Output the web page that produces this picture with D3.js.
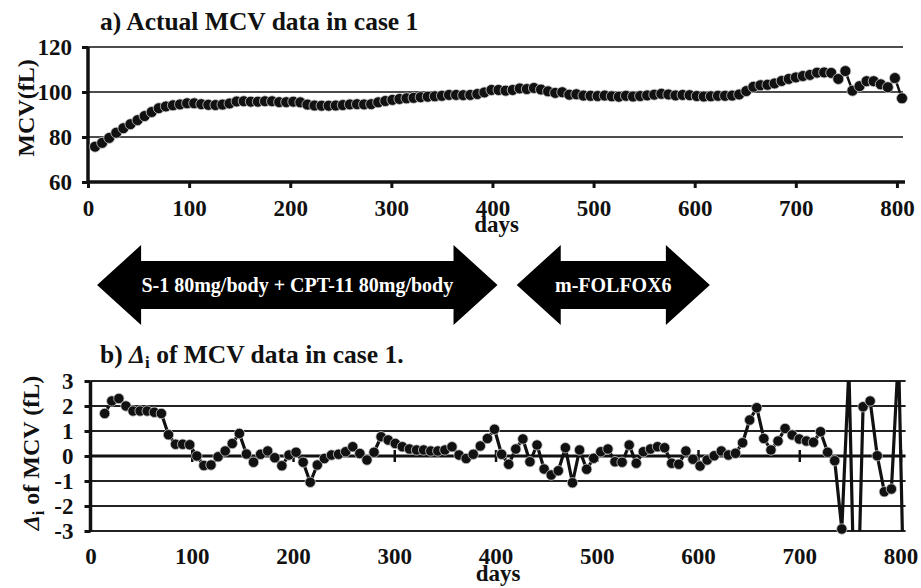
<!DOCTYPE html>
<html>
<head>
<meta charset="utf-8">
<script src="https://cdn.jsdelivr.net/npm/d3@7"></script>
<style>
  html, body { margin: 0; padding: 0; background: #fff; }
  svg { display: block; }
  text { font-family: "Liberation Serif", "Times New Roman", serif; font-weight: bold; fill: #111; }
</style>
</head>
<body>
<svg id="chart" width="921" height="588"></svg>
<script>
// Sampling days (weekly blood tests)
const days = [7,14,21,28,35,42,49,56,63,70,77,84,91,98,105,112,119,126,133,140,
  147,154,161,168,175,182,189,196,203,210,217,224,231,238,245,252,259,266,273,280,
  287,294,301,308,315,322,329,336,343,350,357,364,371,378,385,392,399,406,413,420,
  427,434,441,448,455,462,469,476,483,490,497,504,511,518,525,532,539,546,553,560,
  567,574,581,588,595,602,609,616,623,630,637,644,651,658,665,672,679,686,693,700,
  707,714,721,728,735,742,749,756,763,770,777,784,791,798,805];

// MCV (fL) on each sampling day
const mcv = [75.7,77.4,79.6,81.9,83.9,85.7,87.5,89.3,91.1,92.8,93.6,94.1,94.5,95.0,95.0,94.6,94.3,94.2,94.4,94.9,
  95.8,95.9,95.7,95.7,95.9,95.9,95.5,95.5,95.7,95.4,94.4,94.0,93.9,93.9,94.0,94.2,94.5,94.6,94.5,94.6,
  95.4,96.0,96.5,96.9,97.2,97.4,97.7,97.9,98.1,98.3,98.7,98.7,98.6,98.7,99.1,99.8,100.9,100.9,100.6,100.9,
  101.6,101.3,101.8,101.1,100.3,99.6,99.9,98.8,99.0,98.4,98.3,98.2,98.4,98.1,97.9,98.3,98.0,98.2,98.5,98.8,
  99.2,98.9,98.5,98.7,98.6,98.2,98.0,98.1,98.3,98.3,98.4,98.9,100.4,102.3,103.0,103.2,103.8,104.9,105.8,106.5,
  107.1,107.6,108.6,108.7,108.5,105.8,109.3,100.6,102.6,104.8,104.8,103.4,102.1,106.2,97.2];

// Δi of MCV (fL), from the second sampling day onward
const deltaDays = days.slice(1);
const delta = [1.7,2.2,2.3,2.0,1.8,1.8,1.8,1.75,1.7,0.85,0.47,0.47,0.45,0.0,-0.38,-0.36,-0.03,0.2,0.5,0.9,
  0.08,-0.25,0.07,0.2,-0.07,-0.39,0.04,0.15,-0.25,-1.05,-0.36,-0.1,0.04,0.07,0.17,0.37,0.1,-0.16,0.15,0.77,
  0.64,0.5,0.37,0.28,0.24,0.24,0.2,0.2,0.24,0.37,0.04,-0.1,0.07,0.4,0.7,1.07,0.07,-0.33,0.28,0.68,
  -0.23,0.44,-0.52,-0.76,-0.59,0.33,-1.07,0.24,-0.53,-0.09,0.17,0.28,-0.23,-0.25,0.44,-0.29,0.17,0.28,0.37,0.33,
  -0.29,-0.33,0.2,-0.13,-0.4,-0.16,0.01,0.2,0.04,0.11,0.53,1.44,1.93,0.7,0.24,0.6,1.1,0.84,0.68,0.6,
  0.55,0.97,0.15,-0.19,-2.92,3.5,-8.7,1.97,2.2,0.01,-1.43,-1.32,4.1,-9.0];

// Axis ticks
const dayTicks = [0,100,200,300,400,500,600,700,800];
const mcvTicks = [60,80,100,120];
const deltaTicks = [-3,-2,-1,0,1,2,3];

// Treatment periods (days)
const treatNames = ["S-1 80mg/body + CPT-11 80mg/body", "m-FOLFOX6"];
const treatStart = [9, 424];
const treatEnd = [405, 615];

const plain = d => String(d);   // "-1", not "−1.0"
const svg = d3.select("#chart");

// ---------- a) MCV ----------
const xA = d3.scaleLinear().domain([0, 806]).range([88, 903]);
const yA = d3.scaleLinear().domain([60, 120]).range([182, 47]);

svg.append("text").attr("x", 100).attr("y", 30).style("font-size", "25.5px")
  .text("a) Actual MCV data in case 1");

const gA = svg.append("g");
gA.selectAll("line.grid").data(mcvTicks.filter(v => v > 60)).join("line")
  .attr("x1", xA(0)).attr("x2", xA(806)).attr("y1", d => yA(d)).attr("y2", d => yA(d))
  .attr("stroke", "#111").attr("stroke-width", 1.6);

const axA_y = gA.append("g").attr("transform", `translate(${xA(0)},0)`)
  .call(d3.axisLeft(yA).tickValues(mcvTicks).tickFormat(plain).tickSize(6).tickPadding(10));
const axA_x = gA.append("g").attr("transform", `translate(0,${yA(60)})`)
  .call(d3.axisBottom(xA).tickValues(dayTicks).tickFormat(plain).tickSize(6).tickPadding(12));
[axA_y, axA_x].forEach(a => {
  a.select(".domain").attr("stroke", "#111").attr("stroke-width", 3.5);
  a.selectAll(".tick line").attr("stroke", "#111").attr("stroke-width", 3);
  a.selectAll(".tick text").style("font-size", "23px").attr("fill", "#111");
});
axA_x.select(".domain").attr("d", `M${xA(0)},0H${xA(806) + 2}`);
axA_y.select(".domain").attr("d", `M0,${yA(60)}V${yA(120)}`);

svg.append("text").attr("x", (xA(0) + xA(806)) / 2 + 1).attr("y", 232)
  .attr("text-anchor", "middle").style("font-size", "23px").text("days");
svg.append("text").attr("transform", "translate(34,108) rotate(-90)")
  .attr("text-anchor", "middle").style("font-size", "24px").text("MCV(fL)");

const mcvPts = days.map((d, i) => [d, mcv[i]]);
gA.append("path").datum(mcvPts)
  .attr("d", d3.line().x(p => xA(p[0])).y(p => yA(p[1])))
  .attr("fill", "none").attr("stroke", "#111").attr("stroke-width", 2.5);
gA.selectAll("circle").data(mcvPts).join("circle")
  .attr("cx", p => xA(p[0])).attr("cy", p => yA(p[1])).attr("r", 5.5)
  .attr("fill", "#111").attr("stroke", "#ccc").attr("stroke-width", 0.8);

// ---------- treatment arrows ----------
const arrowCy = 285, headH = 40, shaftH = 24, headL = 44;
treatNames.forEach((name, i) => {
  const x0 = xA(treatStart[i]), x1 = xA(treatEnd[i]);
  const pts = [
    [x0, arrowCy], [x0 + headL, arrowCy - headH], [x0 + headL, arrowCy - shaftH],
    [x1 - headL, arrowCy - shaftH], [x1 - headL, arrowCy - headH], [x1, arrowCy],
    [x1 - headL, arrowCy + headH], [x1 - headL, arrowCy + shaftH],
    [x0 + headL, arrowCy + shaftH], [x0 + headL, arrowCy + headH]
  ];
  svg.append("polygon").attr("points", pts.map(p => p.join(",")).join(" ")).attr("fill", "#000");
  svg.append("text").attr("x", (x0 + x1) / 2).attr("y", arrowCy + 7)
    .attr("text-anchor", "middle").style("font-size", "20px")
    .style("fill", "#fff").text(name);
});

// ---------- b) Δi ----------
const xB = d3.scaleLinear().domain([0, 805]).range([90.5, 905.6]);
const yB = d3.scaleLinear().domain([-3, 3]).range([531, 381]);

const tB = svg.append("text").attr("x", 100).attr("y", 363).style("font-size", "25.5px");
tB.append("tspan").text("b) ");
tB.append("tspan").style("font-style", "italic").text("Δ");
tB.append("tspan").attr("dy", 5).style("font-size", "17px").text("i");
tB.append("tspan").attr("dy", -5).text(" of MCV data in case 1.");

const gB = svg.append("g");
gB.selectAll("line.grid").data(deltaTicks.filter(v => v !== 0)).join("line")
  .attr("x1", xB(0)).attr("x2", xB(805)).attr("y1", d => yB(d)).attr("y2", d => yB(d))
  .attr("stroke", "#222").attr("stroke-width", 1.8);

const axB_y = gB.append("g").attr("transform", `translate(${xB(0)},0)`)
  .call(d3.axisLeft(yB).tickValues(deltaTicks).tickFormat(plain).tickSize(6).tickPadding(11));
axB_y.select(".domain").attr("stroke", "#111").attr("stroke-width", 3.5)
  .attr("d", `M0,${yB(-3) + 1}V${yB(3)}`);
axB_y.selectAll(".tick line").attr("stroke", "#111").attr("stroke-width", 3);
axB_y.selectAll(".tick text").style("font-size", "23px").attr("fill", "#111");

// zero line with crossing ticks
const axB_zero = gB.append("g").attr("transform", `translate(0,${yB(0)})`)
  .call(d3.axisBottom(xB).tickValues(dayTicks.slice(1)).tickSize(6).tickFormat(""));
axB_zero.select(".domain").attr("stroke", "#111").attr("stroke-width", 3)
  .attr("d", `M${xB(0)},0H${xB(805)}`);
axB_zero.selectAll(".tick line").attr("stroke", "#111").attr("stroke-width", 2.5).attr("y1", -6);

// tick labels along the bottom edge
const axB_lab = gB.append("g").attr("transform", `translate(0,${yB(-3)})`)
  .call(d3.axisBottom(xB).tickValues(dayTicks).tickFormat(plain).tickSize(0).tickPadding(17));
axB_lab.select(".domain").remove();
axB_lab.selectAll(".tick text").style("font-size", "23px").attr("fill", "#111");

svg.append("text").attr("x", (xB(0) + xB(805)) / 2).attr("y", 581)
  .attr("text-anchor", "middle").style("font-size", "23px").text("days");

const yT = svg.append("text").attr("transform", "translate(39,453) rotate(-90)")
  .attr("text-anchor", "middle").style("font-size", "24px");
yT.append("tspan").style("font-style", "italic").text("Δ");
yT.append("tspan").attr("dy", 5).style("font-size", "16px").text("i");
yT.append("tspan").attr("dy", -5).text(" of MCV (fL)");

svg.append("defs").append("clipPath").attr("id", "clipB")
  .append("rect").attr("x", xB(0)).attr("y", yB(3)).attr("width", xB(805) - xB(0) + 1)
  .attr("height", yB(-3) - yB(3));

const deltaPts = deltaDays.map((d, i) => [d, delta[i]]);
gB.append("path").datum(deltaPts).attr("clip-path", "url(#clipB)")
  .attr("d", d3.line().x(p => xB(p[0])).y(p => yB(p[1])))
  .attr("fill", "none").attr("stroke", "#111").attr("stroke-width", 3.2)
  .attr("stroke-linejoin", "round");
gB.selectAll("circle").data(deltaPts.filter(p => p[1] >= -3 && p[1] <= 3)).join("circle")
  .attr("cx", p => xB(p[0])).attr("cy", p => yB(p[1])).attr("r", 5.2)
  .attr("fill", "#111").attr("stroke", "#ccc").attr("stroke-width", 0.8);
</script>
</body>
</html>
